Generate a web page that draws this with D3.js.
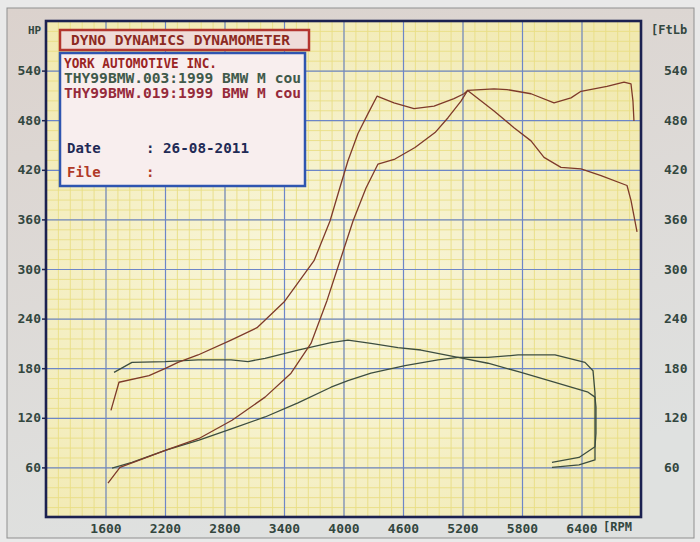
<!DOCTYPE html>
<html>
<head>
<meta charset="utf-8">
<script src="https://d3js.org/d3.v7.min.js"></script>
<style>
  html, body { margin: 0; padding: 0; background: #e9e9e9; }
  svg { display: block; }
  text { font-family: "DejaVu Sans Mono", "Liberation Mono", monospace; font-weight: bold; }
</style>
</head>
<body>
<div id="chart"></div>
<script>
// tick labels
var rpmTicks = [1600, 2200, 2800, 3400, 4000, 4600, 5200, 5800, 6400];
var valueTicks = [60, 120, 180, 240, 300, 360, 420, 480, 540];

// run .019 (red) - torque and power
var redTorqueRpm = [1655, 1736, 2039, 2210, 2331, 2533, 2866, 3128, 3400, 3703, 3864, 3955, 4045, 4146, 4247, 4338, 4509, 4711, 4913, 5114, 5215, 5252, 5518, 5719, 5891, 6022, 6193, 6395, 6597, 6859, 6899, 6960];
var redTorque    = [129, 163, 171, 180, 187, 196, 214, 229, 260, 310, 358, 395, 431, 464, 488, 509, 501, 494, 497, 506, 512, 516, 491, 471, 455, 435, 423, 421, 413, 401, 383, 345];
var redHpRpm = [1625, 1746, 2210, 2543, 2876, 3209, 3471, 3672, 3834, 3965, 4096, 4227, 4348, 4519, 4721, 4923, 5054, 5185, 5252, 5518, 5649, 5891, 6123, 6294, 6395, 6657, 6829, 6899, 6919, 6929];
var redHp    = [41, 60, 81, 95, 117, 145, 174, 210, 262, 310, 358, 398, 427, 433, 447, 465, 483, 503, 516, 518, 517, 512, 501, 507, 515, 521, 526, 524, 503, 479];

// run .003 (green) - torque and power, with the rundown tails
var greenTorqueRpm = [1686, 1867, 2200, 2533, 2866, 3037, 3209, 3541, 3874, 4045, 4277, 4549, 4781, 5155, 5457, 5790, 6133, 6466, 6536, 6546, 6546, 6536, 6375, 6102];
var greenTorque    = [175, 187, 188, 190, 190, 188, 192, 202, 211, 214, 210, 205, 202, 193, 186, 175, 163, 151, 145, 133, 101, 85, 72, 66];
var greenHpRpm = [1666, 1867, 2210, 2543, 2876, 3209, 3541, 3874, 4045, 4277, 4620, 4953, 5155, 5457, 5760, 6133, 6435, 6516, 6536, 6536, 6536, 6536, 6375, 6102];
var greenHp    = [59, 66, 81, 93, 107, 121, 138, 157, 165, 174, 183, 190, 193, 193, 196, 196, 187, 177, 150, 129, 93, 69, 63, 60];

var legendTitle = "DYNO DYNAMICS DYNAMOMETER";
var legendLines = ["YORK AUTOMOTIVE INC.", "THY99BMW.003:1999 BMW M cou", "THY99BMW.019:1999 BMW M cou"];
var dateText = "26-08-2011";

function zip(xs, ys) {
    return xs.map(function(r, i) { return {rpm: r, v: ys[i]}; });
}

var width = 700, height = 542;
var pLeft = 46, pRight = 641, pTop = 21, pBottom = 517;

var svg = d3.select("#chart").append("svg")
    .attr("width", width)
    .attr("height", height);

var defs = svg.append("defs");
var bg = defs.append("linearGradient").attr("id", "paper")
    .attr("x1", 0).attr("y1", 0).attr("x2", 0.3).attr("y2", 1);
bg.append("stop").attr("offset", "0%").attr("stop-color", "#dbd2cd");
bg.append("stop").attr("offset", "100%").attr("stop-color", "#dfe1e0");
var pg = defs.append("radialGradient").attr("id", "plotfill")
    .attr("cx", "45%").attr("cy", "55%").attr("r", "70%");
pg.append("stop").attr("offset", "0%").attr("stop-color", "#f9f7df");
pg.append("stop").attr("offset", "100%").attr("stop-color", "#f1e9b0");

// photo frame
svg.append("rect").attr("x", 0).attr("y", 0).attr("width", width).attr("height", height).style("fill", "#e9e9e9");
svg.append("rect").attr("x", 7).attr("y", 8).attr("width", 687).attr("height", 530)
    .style("fill", "url(#paper)").style("stroke", "#8f8f8f").style("stroke-width", 1);

var x = d3.scaleLinear().domain([1000, 7000]).range([pLeft, pRight]);
var y = d3.scaleLinear().domain([0, 600]).range([pBottom, pTop]);

svg.append("rect").attr("x", pLeft).attr("y", pTop).attr("width", pRight - pLeft).attr("height", pBottom - pTop)
    .style("fill", "url(#plotfill)");

// minor grid
svg.append("g").attr("class", "minor")
    .attr("transform", "translate(0," + pBottom + ")")
    .call(d3.axisBottom(x).tickValues(d3.range(1000, 7001, 120)).tickSize(-(pBottom - pTop)).tickFormat(""))
    .call(function(g) { g.select(".domain").remove(); });
svg.append("g").attr("class", "minor")
    .attr("transform", "translate(" + pLeft + ",0)")
    .call(d3.axisLeft(y).tickValues(d3.range(0, 601, 12)).tickSize(-(pRight - pLeft)).tickFormat(""))
    .call(function(g) { g.select(".domain").remove(); });
svg.selectAll(".minor line").style("stroke", "#e9de84").style("stroke-width", 0.9);

// major grid
svg.append("g").attr("class", "major")
    .attr("transform", "translate(0," + pBottom + ")")
    .call(d3.axisBottom(x).tickValues(rpmTicks).tickSize(-(pBottom - pTop)).tickFormat(""))
    .call(function(g) { g.select(".domain").remove(); });
svg.append("g").attr("class", "major")
    .attr("transform", "translate(" + pLeft + ",0)")
    .call(d3.axisLeft(y).tickValues(valueTicks).tickSize(-(pRight - pLeft)).tickFormat(""))
    .call(function(g) { g.select(".domain").remove(); });
svg.selectAll(".major line").style("stroke", "#6d86c8").style("stroke-width", 1.2);

// axes with labels
var labelColor = "#33473f";
var xAxis = svg.append("g")
    .attr("transform", "translate(0," + pBottom + ")")
    .call(d3.axisBottom(x).tickValues(rpmTicks).tickSize(0).tickPadding(7).tickFormat(d3.format("d")));
var yAxisL = svg.append("g")
    .attr("transform", "translate(" + pLeft + ",0)")
    .call(d3.axisLeft(y).tickValues(valueTicks).tickSize(4).tickPadding(1).tickFormat(d3.format("d")));
var yAxisR = svg.append("g")
    .attr("transform", "translate(" + pRight + ",0)")
    .call(d3.axisRight(y).tickValues(valueTicks).tickSize(0).tickPadding(23).tickFormat(d3.format("d")));
[xAxis, yAxisL, yAxisR].forEach(function(g) {
    g.select(".domain").remove();
    g.selectAll("text").style("font-size", "13px").style("fill", labelColor)
        .style("font-family", "DejaVu Sans Mono").style("font-weight", "bold");
    g.selectAll("line").style("stroke", "#1d2450").style("stroke-width", 1.5);
});

// plot border
svg.append("rect").attr("x", pLeft).attr("y", pTop).attr("width", pRight - pLeft).attr("height", pBottom - pTop)
    .style("fill", "none").style("stroke", "#1b2150").style("stroke-width", 2.6);

svg.append("text").attr("x", 28).attr("y", 34).text("HP")
    .style("font-size", "11px").style("fill", labelColor);
svg.append("text").attr("x", 651).attr("y", 34).text("[FtLb")
    .style("font-size", "12px").style("fill", labelColor);
svg.append("text").attr("x", 603).attr("y", 531).text("[RPM")
    .style("font-size", "12px").style("fill", labelColor);

// curves
var line = d3.line()
    .x(function(d) { return x(d.rpm); })
    .y(function(d) { return y(d.v); });

var curves = [
    {data: zip(greenHpRpm, greenHp), color: "#3c4d40"},
    {data: zip(greenTorqueRpm, greenTorque), color: "#3c4d40"},
    {data: zip(redHpRpm, redHp), color: "#7e3a2a"},
    {data: zip(redTorqueRpm, redTorque), color: "#7e3a2a"}
];
svg.selectAll(".curve")
    .data(curves)
  .enter().append("path")
    .attr("class", "curve")
    .attr("d", function(d) { return line(d.data); })
    .style("fill", "none")
    .style("stroke", function(d) { return d.color; })
    .style("stroke-width", 1.3)
    .style("stroke-linejoin", "round");

// legend boxes
svg.append("rect").attr("x", 60).attr("y", 30).attr("width", 249).attr("height", 20)
    .style("fill", "#efdcd8").style("stroke", "#b3352e").style("stroke-width", 2.5);
svg.append("text").attr("x", 71).attr("y", 45).text(legendTitle)
    .attr("textLength", 219).attr("lengthAdjust", "spacingAndGlyphs")
    .style("font-size", "14px").style("fill", "#8c2a22");

svg.append("rect").attr("x", 60).attr("y", 53).attr("width", 245).attr("height", 133)
    .style("fill", "#f8eeee").style("stroke", "#2f55b0").style("stroke-width", 2.5);

var lineColors = ["#9a2424", "#3f5a4a", "#962a3a"];
var lineY = [68, 83, 98];
var lineLen = [153, 237, 237];
svg.selectAll(".legline")
    .data(legendLines)
  .enter().append("text")
    .attr("class", "legline")
    .attr("x", 64)
    .attr("y", function(d, i) { return lineY[i]; })
    .attr("textLength", function(d, i) { return lineLen[i]; })
    .attr("lengthAdjust", "spacingAndGlyphs")
    .text(function(d) { return d; })
    .style("font-size", "14px")
    .style("fill", function(d, i) { return lineColors[i]; });

svg.append("text").attr("x", 67).attr("y", 153).text("Date").style("font-size", "14px").style("fill", "#1f2a55");
svg.append("text").attr("x", 146).attr("y", 153).text(":").style("font-size", "14px").style("fill", "#1f2a55");
svg.append("text").attr("x", 163).attr("y", 153).text(dateText)
    .attr("textLength", 86).attr("lengthAdjust", "spacingAndGlyphs")
    .style("font-size", "14px").style("fill", "#1f2a55");
svg.append("text").attr("x", 67).attr("y", 177).text("File").style("font-size", "14px").style("fill", "#b03a28");
svg.append("text").attr("x", 146).attr("y", 177).text(":").style("font-size", "14px").style("fill", "#b03a28");
</script>
</body>
</html>
